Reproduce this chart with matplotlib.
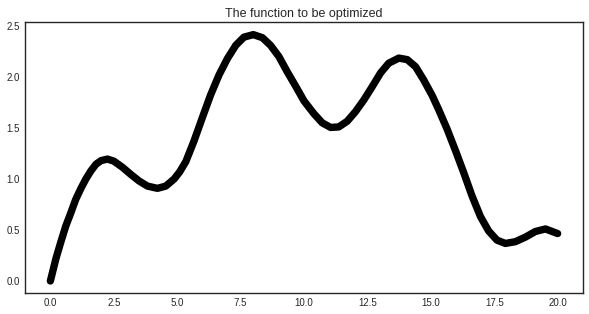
import matplotlib
matplotlib.use("Agg")
import matplotlib.pyplot as plt

# 曲线上读取的点
x_values = [0.0, 0.22, 0.41, 0.61, 0.81, 1.0, 1.2, 1.4, 1.6, 1.8, 2.0, 2.25,
            2.5, 2.84, 3.17, 3.5, 3.83, 4.22, 4.55, 4.88, 5.1, 5.34, 5.66,
            5.99, 6.32, 6.65, 6.98, 7.31, 7.63, 8.0, 8.36, 8.68, 9.01, 9.34,
            9.67, 10.0, 10.39, 10.72, 11.05, 11.37, 11.7, 12.03, 12.36, 12.69,
            13.02, 13.34, 13.74, 14.07, 14.4, 14.72, 15.05, 15.31, 15.64,
            15.97, 16.3, 16.63, 16.96, 17.28, 17.61, 17.94, 18.33, 18.73,
            19.12, 19.52, 20.0]
y_values = [0.0, 0.22, 0.38, 0.54, 0.67, 0.80, 0.905, 1.0, 1.08, 1.145, 1.18,
            1.195, 1.175, 1.115, 1.045, 0.98, 0.93, 0.908, 0.93, 1.0, 1.07,
            1.17, 1.37, 1.60, 1.825, 2.02, 2.18, 2.31, 2.39, 2.415, 2.385,
            2.31, 2.20, 2.05, 1.91, 1.765, 1.64, 1.55, 1.505, 1.51, 1.565,
            1.66, 1.775, 1.905, 2.04, 2.135, 2.185, 2.17, 2.10, 1.97, 1.82,
            1.68, 1.49, 1.28, 1.06, 0.83, 0.63, 0.49, 0.40, 0.368, 0.385,
            0.43, 0.485, 0.51, 0.465]

plt.rcParams['font.family'] = ['Liberation Sans', 'DejaVu Sans']

fig = plt.figure(figsize=(5.89, 3.14), dpi=100)
ax = fig.add_axes([25 / 589, 1 - 293.3 / 314, 558 / 589, 271 / 314])

ax.plot(x_values, y_values, color='black', linewidth=5.3,
        solid_capstyle='round', solid_joinstyle='round')

ax.set_title("The function to be optimized", fontsize=9, color='#262626', pad=4)
ax.tick_params(axis='both', length=0, labelsize=7, labelcolor='#262626')
ax.set_xticks([0, 2.5, 5, 7.5, 10, 12.5, 15, 17.5, 20])
ax.set_yticks([0, 0.5, 1.0, 1.5, 2.0, 2.5])
for s in ax.spines.values():
    s.set_color('#262626')
    s.set_linewidth(1.0)

fig.savefig("out.png", dpi=100)
